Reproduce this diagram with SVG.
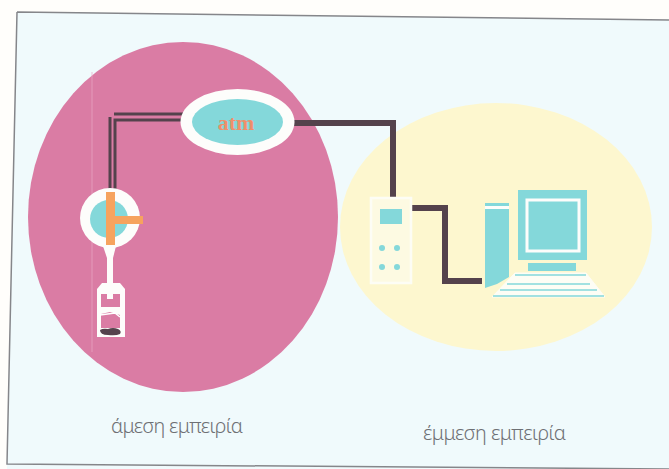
<svg xmlns="http://www.w3.org/2000/svg" width="669" height="469" viewBox="0 0 669 469">
<style>
.w{fill:#fdfdfb}.c{fill:#84d8da}.o{fill:#f6a35e}
.l{font-family:"Noto Sans","Open Sans",sans-serif;font-size:20px;font-weight:300;fill:#6e7074}
.d{fill:none;stroke:#54424c;stroke-linejoin:miter}
</style>
<rect width="669" height="469" fill="#fffefb"/>
<path d="M17 12L669 20V469H7Z" fill="#f0fafc"/>
<path d="M17 12L669 20M17 12L7 464L669 469" fill="none" stroke="#85868a" stroke-width="1.5"/>
<g id="direct-zone"><ellipse cx="183" cy="217" rx="155" ry="175" fill="#da7ca4"/>
<path d="M92 72V352" stroke="#eba9c6" stroke-width="2" opacity="0.35"/></g>
<g id="indirect-zone"><ellipse cx="496" cy="227" rx="156" ry="124" fill="#fdf7cf"/></g>
<g id="connectors">
<path class="d" stroke-width="3" d="M114 114H186"/>
<path class="d" stroke-width="3" d="M110 117V192"/>
<path class="d" stroke-width="3" d="M186 120H115V192"/>
<path class="d" stroke-width="6" d="M293 123H393V199"/>
<path class="d" stroke-width="6" d="M408 208H445V281H482"/>
</g>
<g id="atm"><ellipse cx="237.500" cy="122" rx="57" ry="33" class="w"/><ellipse cx="237.500" cy="122" rx="45.500" ry="23" class="c"/>
<text x="236" y="130" text-anchor="middle" font-family="Liberation Serif,serif" font-weight="700" font-size="22" fill="#f08f6b">atm</text></g>
<g id="card-reader"><circle cx="110" cy="218" r="30" class="w"/><circle cx="109" cy="219" r="19" class="c"/>
<rect x="106" y="192" width="9" height="53" class="o"/><rect x="112" y="216" width="31" height="8" class="o"/></g>
<g id="card"><path d="M103 246H116L113 258V284H107V258Z" class="w"/>
<path d="M102 283H120L125 289V337H97V289Z" class="w"/>
<path d="M101 294H107V299H113V294H120V307H101Z" fill="#da7ca4"/><path d="M101 314L110 312L120 315V328H101Z" fill="#da7ca4"/>
<path d="M100 315L115 313L120 317" fill="none" stroke="#fff" stroke-width="1.500"/>
<path d="M100 330Q103 328 108 329Q113 327 118 329Q122 331 120 334Q116 336 108 335Q100 335 100 330Z" fill="#55434d"/></g>
<g id="phone"><rect x="371" y="198" width="40" height="85" fill="#fdfae2" stroke="#fdfdf5" stroke-width="2.500"/>
<rect x="380" y="209" width="22" height="15" class="c"/>
<circle cx="382" cy="248" r="3" class="c"/><circle cx="397" cy="248" r="3" class="c"/><circle cx="382" cy="267" r="3" class="c"/><circle cx="397" cy="267" r="3" class="c"/></g>
<g id="computer">
<path d="M485 203H509V277L497 284L485 288Z" class="c"/><rect x="485" y="206" width="24" height="3" class="w"/>
<rect x="518" y="190" width="69" height="70" class="c"/>
<rect x="527" y="200" width="52" height="51" fill="none" stroke="#fdfdfb" stroke-width="3"/>
<rect x="528" y="263" width="48" height="8" class="c"/>
<path d="M515 273H586L605 297H492Z" fill="#fdfdf5" stroke="#fdfdf5" stroke-width="1"/>
<path d="M515 275H586M507 284H590M500 290H597M493 296H604" stroke="#84d8da" stroke-width="1.500" fill="none"/>
</g>
<text class="l" x="111" y="433" textLength="132">άμεση εμπειρία</text>
<text class="l" x="423" y="440" textLength="143">έμμεση εμπειρία</text>
</svg>
